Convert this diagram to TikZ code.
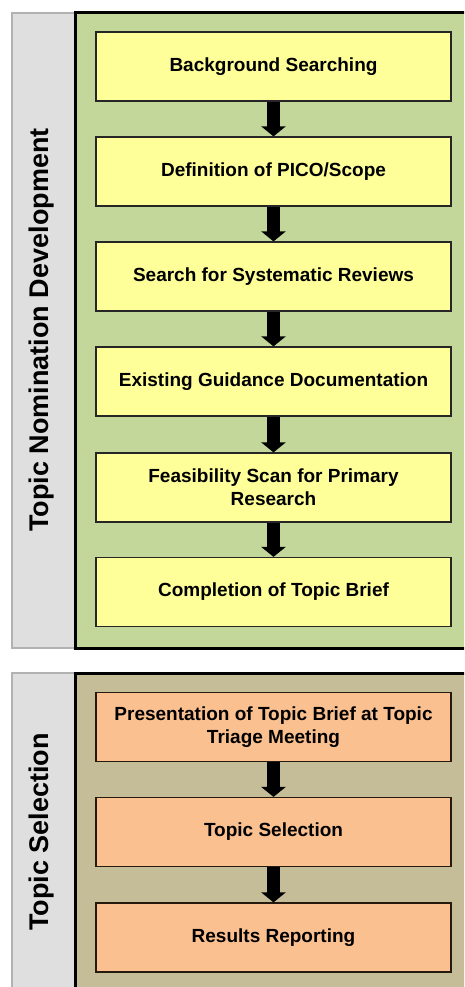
\documentclass[tikz,border=0pt]{standalone}
\usepackage{fontspec}
\setmainfont{Liberation Sans}
\usetikzlibrary{arrows.meta,positioning}
\definecolor{nomgreen}{HTML}{C4D79B}
\definecolor{selolive}{HTML}{C4BD97}
\definecolor{boxyellow}{HTML}{FFFF99}
\definecolor{boxorange}{HTML}{FAC090}
\tikzset{ybox/.style={draw=black!85, line width=1.2pt, fill=boxyellow, minimum width=355pt, minimum height=69pt, inner sep=0pt, align=center, font=\fontsize{19}{23}\selectfont\bfseries}}
\tikzset{obox/.style={ybox, draw=black!80!brown, fill=boxorange}}
\tikzset{arr/.style={draw, line width=13pt, -{Triangle[width=24pt,length=10pt]}}}
\tikzset{band/.style={draw=gray!60, line width=2.5pt, fill=gray!25}}
\tikzset{panel/.style={draw=black, line width=3pt}}
\tikzset{stage/.style={rotate=90, font=\fontsize{27}{30}\selectfont\bfseries}}

\begin{document}
\begin{tikzpicture}[x=1pt, y=-1pt]
                \useasboundingbox (0,0) rectangle (464,987);
                \clip (0,0) rectangle (464,987);

                % nomination stage
                \draw[band] (12,13) rectangle (75,648);
                \draw[panel, fill=nomgreen] (75,13) rectangle (480,648);
                \node[stage] (N) at (42,330) {Topic Nomination Development};

                \node[ybox] (B1) at (273.5,66.5) {Background Searching};
                \node[ybox] (B2) at (273.5,171.5) {Definition of PICO/Scope};
                \node[ybox] (B3) at (273.5,276.5) {Search for Systematic Reviews};
                \node[ybox] (B4) at (273.5,381.5) {Existing Guidance Documentation};
                \node[ybox] (B5) at (273.5,487.5) {Feasibility Scan for Primary\\Research};
                \node[ybox] (B6) at (273.5,592) {Completion of Topic Brief};

                \draw[arr] (B1) to (B2);
                \draw[arr] (B2) to (B3);
                \draw[arr] (B3) to (B4);
                \draw[arr] (B4) to (B5);
                \draw[arr] (B5) to (B6);

                % selection stage
                \draw[band] (12,673) rectangle (75,1010);
                \draw[panel, fill=selolive] (75,673) rectangle (480,1010);
                \node[stage] (S) at (42,832) {Topic Selection};

                \node[obox] (O1) at (273.5,727) {Presentation of Topic Brief at Topic\\Triage Meeting};
                \node[obox] (O2) at (273.5,832) {Topic Selection};
                \node[obox] (O3) at (273.5,937.5) {Results Reporting};

                \draw[arr] (O1) to (O2);
                \draw[arr] (O2) to (O3);
            \end{tikzpicture}
\end{document}
